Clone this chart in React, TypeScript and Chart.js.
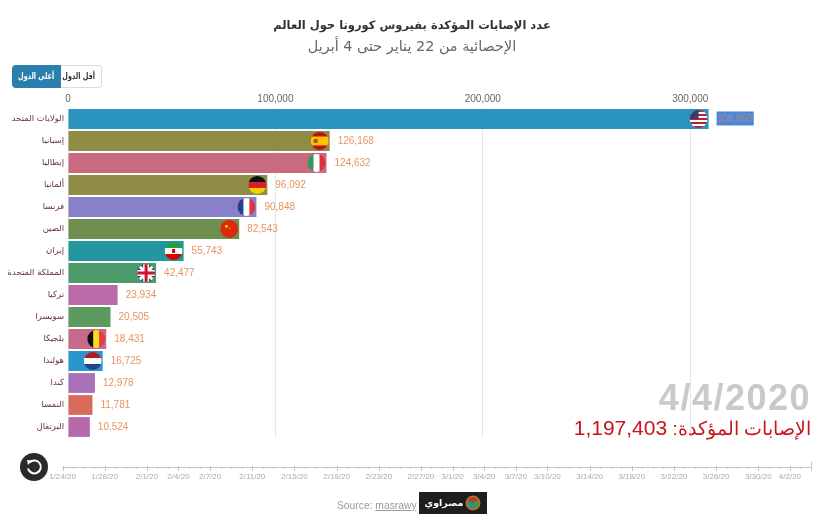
import React, { useEffect, useRef } from "react";
import { Chart, registerables } from "chart.js";

Chart.register(...registerables);

const TITLE = "عدد الإصابات المؤكدة بفيروس كورونا حول العالم";
const SUBTITLE = "الإحصائية من 22 يناير حتى 4 أبريل";
const countries = ["الولايات المتحد", "إسبانيا", "إيطاليا", "ألمانيا", "فرنسا", "الصين", "إيران", "المملكة المتحدة", "تركيا", "سويسرا", "بلجيكا", "هولندا", "كندا", "النمسا", "البرتغال"];
const cases = [308850, 126168, 124632, 96092, 90848, 82543, 55743, 42477, 23934, 20505, 18431, 16725, 12978, 11781, 10524];
const barColors = ["#2a96bf", "#8f8c45", "#c96a80", "#8f8c45", "#8880c8", "#6e8f4f", "#22979f", "#4a9a6a", "#bd6aa8", "#5d9a5d", "#c96a8c", "#2a96cc", "#aa70b8", "#d96a5c", "#b568aa"];
const flags = ["us", "es", "it", "de", "fr", "cn", "ir", "gb", "", "", "be", "nl", "", "", ""];
const axisTicks = [0, 100000, 200000, 300000];
const timelineDays = [0, 4, 8, 11, 14, 18, 22, 26, 30, 34, 37, 40, 43, 46, 50, 54, 58, 62, 66, 69];
const timelineLabels = ["1/24/20", "1/28/20", "2/1/20", "2/4/20", "2/7/20", "2/11/20", "2/15/20", "2/19/20", "2/23/20", "2/27/20", "3/1/20", "3/4/20", "3/7/20", "3/10/20", "3/14/20", "3/18/20", "3/22/20", "3/26/20", "3/30/20", "4/2/20"];
const TIMELINE_LAST_DAY = 71;
const DATE_LABEL = "4/4/2020";
const TOTAL_CAPTION = "الإصابات المؤكدة: ";
const TOTAL_VALUE = "1,197,403";
const TOP_BUTTON = "أعلى الدول";
const LOW_BUTTON = "أقل الدول";

type Ctx = CanvasRenderingContext2D;

function vStripes(ctx: Ctx, cx: number, cy: number, r: number, cols: string[]) {
  const w = (2 * r) / cols.length;
  cols.forEach((c, i) => {
    ctx.fillStyle = c;
    ctx.fillRect(cx - r + i * w, cy - r, w + 0.5, 2 * r);
  });
}
function hStripes(ctx: Ctx, cx: number, cy: number, r: number, cols: string[]) {
  const h = (2 * r) / cols.length;
  cols.forEach((c, i) => {
    ctx.fillStyle = c;
    ctx.fillRect(cx - r, cy - r + i * h, 2 * r, h + 0.5);
  });
}

function drawFlag(ctx: Ctx, code: string, cx: number, cy: number, r: number) {
  ctx.save();
  ctx.beginPath();
  ctx.arc(cx, cy, r, 0, Math.PI * 2);
  ctx.clip();
  if (code === "us") {
    hStripes(ctx, cx, cy, r, ["#b22234", "#fff", "#b22234", "#fff", "#b22234", "#fff", "#b22234", "#fff", "#b22234"]);
    ctx.fillStyle = "#3c3b6e";
    ctx.fillRect(cx - r, cy - r, r, r);
  } else if (code === "es") {
    hStripes(ctx, cx, cy, r, ["#c60b1e", "#ffc400", "#ffc400", "#c60b1e"]);
    ctx.fillStyle = "#a8562a";
    ctx.fillRect(cx - r + 3, cy - 2, 4, 4);
  } else if (code === "it") {
    vStripes(ctx, cx, cy, r, ["#2f9a5b", "#ffffff", "#d8333f"]);
  } else if (code === "de") {
    hStripes(ctx, cx, cy, r, ["#111", "#d8202a", "#ffce00"]);
  } else if (code === "fr") {
    vStripes(ctx, cx, cy, r, ["#24418f", "#ffffff", "#e0313f"]);
  } else if (code === "cn") {
    ctx.fillStyle = "#de2910";
    ctx.fillRect(cx - r, cy - r, 2 * r, 2 * r);
    ctx.fillStyle = "#ffde00";
    ctx.fillRect(cx - 4, cy - 4, 2.5, 2.5);
    ctx.fillRect(cx, cy - 1, 1, 1);
  } else if (code === "ir") {
    hStripes(ctx, cx, cy, r, ["#239f40", "#ffffff", "#da0000"]);
    ctx.fillStyle = "#da0000";
    ctx.fillRect(cx - 1.5, cy - 2, 3, 4);
  } else if (code === "gb") {
    ctx.fillStyle = "#1f3a7a";
    ctx.fillRect(cx - r, cy - r, 2 * r, 2 * r);
    ctx.strokeStyle = "#fff";
    ctx.lineWidth = 3;
    ctx.beginPath();
    ctx.moveTo(cx - r, cy - r);
    ctx.lineTo(cx + r, cy + r);
    ctx.moveTo(cx + r, cy - r);
    ctx.lineTo(cx - r, cy + r);
    ctx.stroke();
    ctx.fillStyle = "#fff";
    ctx.fillRect(cx - 3, cy - r, 6, 2 * r);
    ctx.fillRect(cx - r, cy - 3, 2 * r, 6);
    ctx.fillStyle = "#cf142b";
    ctx.fillRect(cx - 1.5, cy - r, 3, 2 * r);
    ctx.fillRect(cx - r, cy - 1.5, 2 * r, 3);
  } else if (code === "be") {
    vStripes(ctx, cx, cy, r, ["#111", "#fdda24", "#e23d3d"]);
  } else if (code === "nl") {
    hStripes(ctx, cx, cy, r, ["#ae1c28", "#ffffff", "#21468b"]);
  }
  ctx.restore();
}

const barDecorations = {
  id: "barDecorations",
  afterDatasetsDraw(chart: any) {
    const ctx: Ctx = chart.ctx;
    const bars = chart.getDatasetMeta(0).data;
    ctx.save();
    bars.forEach((bar: any, i: number) => {
      if (flags[i]) drawFlag(ctx, flags[i], bar.x - 10, bar.y, 9);
      const text = cases[i].toLocaleString("en-US");
      ctx.font = "10px 'Liberation Sans', Arial, sans-serif";
      ctx.textBaseline = "middle";
      ctx.textAlign = "left";
      const tx = bar.x + 8;
      if (i === 0) {
        ctx.fillStyle = "#4a86d8";
        ctx.fillRect(tx, bar.y - 7.5, ctx.measureText(text).width + 1, 14);
        ctx.fillStyle = "#a98a92";
      } else {
        ctx.fillStyle = "#e8935f";
      }
      ctx.fillText(text, tx, bar.y + 0.5);
    });
    ctx.restore();
  },
};

const timeline = {
  id: "timeline",
  afterDraw(chart: any) {
    const ctx: Ctx = chart.ctx;
    const x0 = 62.5;
    const x1 = 811;
    const y = 467;
    const px = (d: number) => x0 + ((x1 - x0) * d) / TIMELINE_LAST_DAY;
    ctx.save();
    ctx.strokeStyle = "#c4c4c4";
    ctx.lineWidth = 1;
    ctx.beginPath();
    ctx.moveTo(x0, y + 0.5);
    ctx.lineTo(x1, y + 0.5);
    for (let d = 0; d <= TIMELINE_LAST_DAY; d++) {
      ctx.moveTo(Math.round(px(d)) + 0.5, y);
      ctx.lineTo(Math.round(px(d)) + 0.5, y + 2);
    }
    timelineDays.forEach((d) => {
      ctx.moveTo(Math.round(px(d)) + 0.5, y - 1);
      ctx.lineTo(Math.round(px(d)) + 0.5, y + 4);
    });
    ctx.moveTo(x1 + 0.5, y - 5);
    ctx.lineTo(x1 + 0.5, y + 4);
    ctx.stroke();
    ctx.fillStyle = "#aaa";
    ctx.font = "8px 'Liberation Sans', Arial, sans-serif";
    ctx.textAlign = "center";
    ctx.textBaseline = "middle";
    timelineDays.forEach((d, i) => {
      ctx.fillText(timelineLabels[i], px(d), 477);
    });
    ctx.restore();
  },
};

export default function App() {
  const ref = useRef<HTMLCanvasElement>(null);
  useEffect(() => {
    const chart = new Chart(ref.current as HTMLCanvasElement, {
      type: "bar",
      data: {
        labels: countries,
        datasets: [{ data: cases, backgroundColor: barColors, barPercentage: 0.9, categoryPercentage: 1 }],
      },
      plugins: [barDecorations, timeline],
      options: {
        indexAxis: "y",
        responsive: false,
        animation: false,
        layout: { padding: { top: 19, bottom: 82, left: 0, right: 4 } },
        scales: {
          x: {
            position: "top",
            min: 0,
            max: 364500,
            afterBuildTicks(s: any) {
              s.ticks = axisTicks.map((value) => ({ value }));
            },
            afterFit(s: any) {
              s.height = 17;
            },
            border: { display: false },
            grid: { color: "#e6e6e6", drawTicks: false },
            ticks: {
              maxRotation: 0,
              padding: 3,
              color: "#666",
              font: { size: 10, family: "'Liberation Sans', Arial, sans-serif" },
              callback: (v: any) => Number(v).toLocaleString("en-US"),
            },
          },
          y: {
            afterFit(s: any) {
              s.width = 68;
            },
            border: { display: false },
            grid: { display: false, drawTicks: false },
            ticks: {
              autoSkip: false,
              padding: 4,
              color: "#6b3434",
              font: { size: 8.5, family: "'DejaVu Sans', sans-serif" },
            },
          },
        },
        plugins: {
          legend: { display: false },
          tooltip: { enabled: false },
          title: {
            display: true,
            text: TITLE,
            color: "#333",
            padding: { top: 0, bottom: 6 },
            font: { size: 11.5, weight: "bold", family: "'DejaVu Sans', sans-serif" },
          },
          subtitle: {
            display: true,
            text: SUBTITLE,
            color: "#666",
            padding: { top: 0, bottom: 34.9 },
            font: { size: 14.4, family: "'DejaVu Sans', sans-serif" },
          },
        },
      } as any,
    });
    return () => chart.destroy();
  }, []);

  const abs = (o: React.CSSProperties): React.CSSProperties => ({ position: "absolute", ...o });
  const sans = "'Liberation Sans', Arial, sans-serif";
  const squeezed: React.CSSProperties = { display: "inline-block", transform: "scaleX(0.72)" };
  return (
    <div style={abs({ left: 0, top: 0, width: 828, height: 520, background: "#fff", overflow: "hidden", fontFamily: sans })}>
      <canvas ref={ref} width={828} height={520} style={{ display: "block", direction: "rtl" }} />
      <div style={abs({ left: 12, top: 65, width: 49, height: 23, background: "#2a7fae", color: "#fff", borderRadius: "4px 0 0 4px", fontSize: 9, fontWeight: "bold", lineHeight: "23px", textAlign: "center", whiteSpace: "nowrap", fontFamily: "'DejaVu Sans', sans-serif" })} dir="rtl"><span style={squeezed}>{TOP_BUTTON}</span></div>
      <div style={abs({ left: 61, top: 65, width: 40, height: 21, border: "1px solid #ddd", borderLeft: "none", background: "#fff", color: "#333", borderRadius: "0 4px 4px 0", fontSize: 9, fontWeight: "bold", lineHeight: "21px", textAlign: "center", whiteSpace: "nowrap", fontFamily: "'DejaVu Sans', sans-serif" })} dir="rtl"><span style={squeezed}>{LOW_BUTTON}</span></div>
      <div style={abs({ right: 17, top: 376, fontSize: 36, letterSpacing: 1.5, fontWeight: "bold", color: "#c9c9c9", lineHeight: "44px", whiteSpace: "nowrap" })}>{DATE_LABEL}</div>
      <div dir="rtl" style={abs({ right: 17, top: 415, fontSize: 21, color: "#c8141e", lineHeight: "26px", whiteSpace: "nowrap" })}>
        <span style={{ fontSize: 19 }}>{TOTAL_CAPTION}</span>
        <span>{TOTAL_VALUE}</span>
      </div>
      <svg style={abs({ left: 20, top: 453 })} width={28} height={28} viewBox="0 0 28 28">
        <circle cx={14} cy={14} r={14} fill="#2b2b2b" />
        <path d="M9.5 9.5 A6.5 6.5 0 1 1 8 15.5" fill="none" stroke="#fff" strokeWidth={2} />
        <path d="M7 7 L12 7.5 L8 12 Z" fill="#fff" />
      </svg>
      <div style={abs({ left: 337, top: 499, fontSize: 10.3, color: "#999", lineHeight: "13px", whiteSpace: "nowrap" })}>
        Source: <span style={{ textDecoration: "underline" }}>masrawy</span>
      </div>
      <div style={abs({ left: 419, top: 492, width: 68, height: 22, background: "#1e1e1e" })}>
        <div dir="rtl" style={abs({ left: 4, top: 0, width: 42, color: "#fff", fontSize: 9.5, fontWeight: "bold", lineHeight: "22px", textAlign: "center", whiteSpace: "nowrap", fontFamily: "'DejaVu Sans', sans-serif" })}>مصراوي</div>
        <svg style={abs({ left: 46, top: 3 })} width={16} height={16} viewBox="0 0 16 16">
          <circle cx={8} cy={8} r={7.5} fill="#b0702a" />
          <circle cx={8} cy={8} r={5.5} fill="#2d8f8f" />
          <path d="M8 8 L3 5 A6 6 0 0 1 13 5 Z" fill="#c8352a" />
          <path d="M8 8 L13 5 A6 6 0 0 1 9 13 Z" fill="#3a9a4a" />
        </svg>
      </div>
    </div>
  );
}
